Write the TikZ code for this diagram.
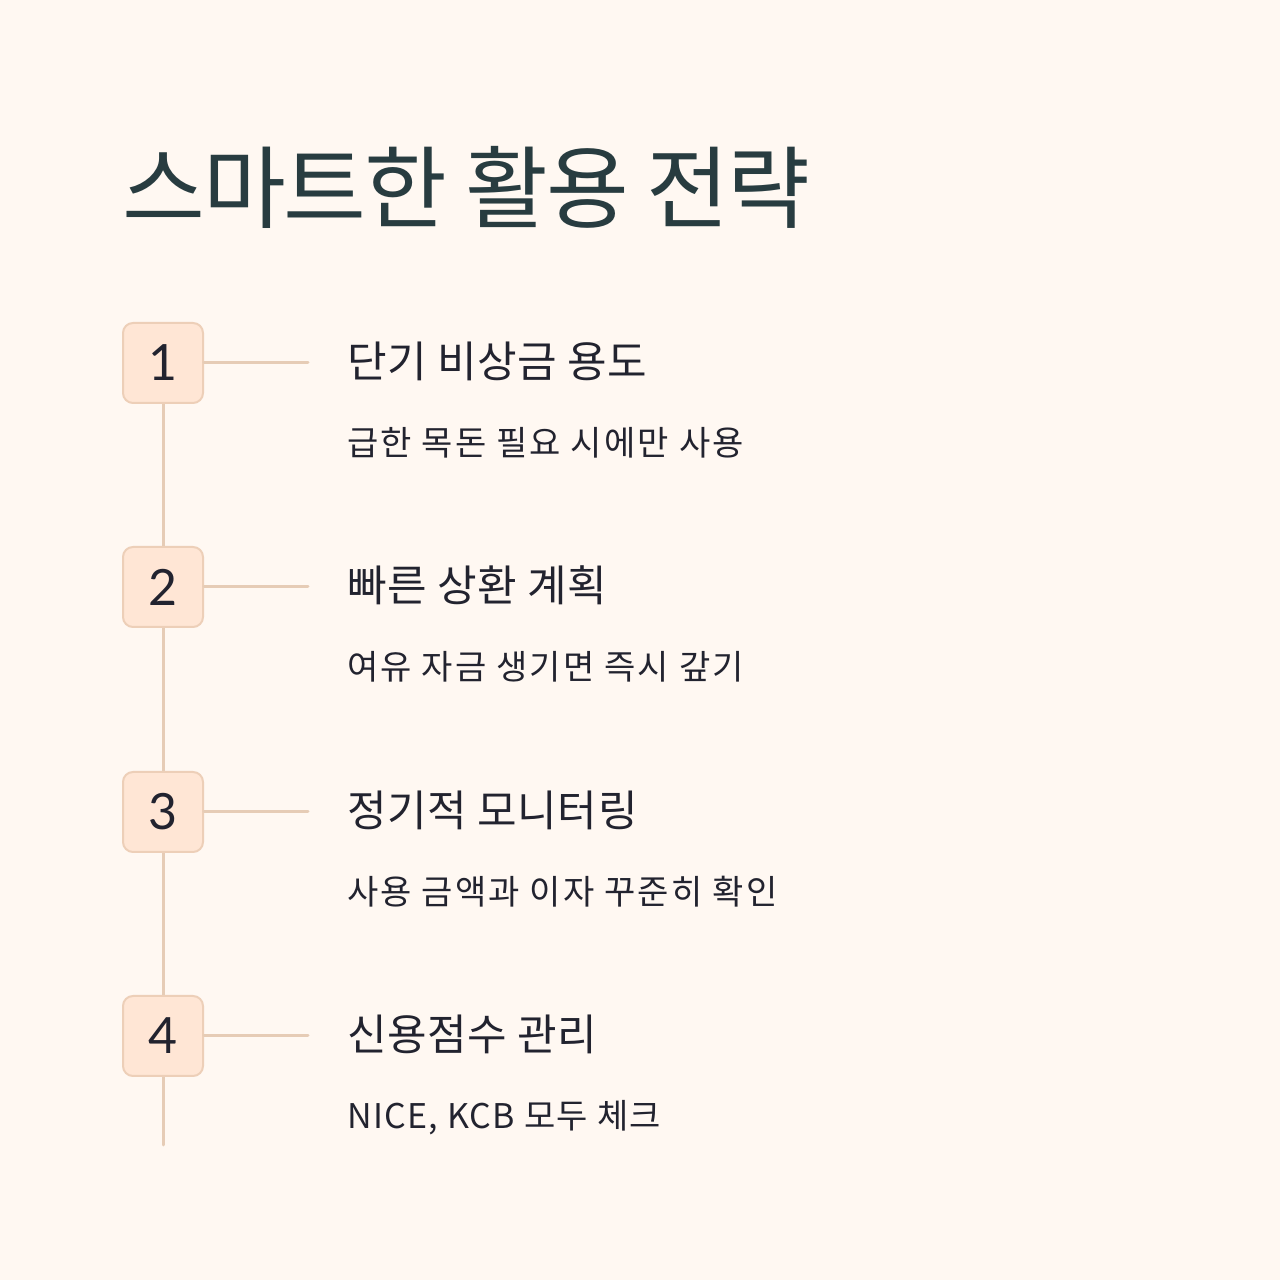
\documentclass[tikz,border=0pt]{standalone}
\usepackage{fontspec}
\setmainfont{Noto Sans CJK KR}
\newfontfamily\numfont{Lato}
\newfontfamily\titlefont[LetterSpace=-2.3]{Noto Sans CJK KR}
\newfontfamily\headfont[LetterSpace=1.5]{Noto Sans CJK KR}
\newfontfamily\subfont[LetterSpace=6.5]{Noto Sans CJK KR}
\newfontfamily\subfontlat[LetterSpace=4]{Noto Sans CJK KR}
\definecolor{bg}{HTML}{FFF8F2}
\definecolor{boxfill}{HTML}{FFE6D5}
\definecolor{boxline}{HTML}{EDCFB8}
\definecolor{conn}{HTML}{E6CCB6}
\definecolor{titlec}{HTML}{283C40}
\definecolor{textc}{HTML}{22232F}
\tikzset{
  numbox/.style={draw=boxline, line width=2pt, fill=boxfill, rounded corners=10pt, minimum width=80pt, minimum height=80pt, inner sep=0pt, font=\numfont\fontsize{50}{50}\selectfont, text=textc},
  heading/.style={anchor=base west, inner sep=0pt, font=\headfont\fontsize{43}{43}\selectfont, text=textc},
  subtext/.style={anchor=base west, inner sep=0pt, font=\subfont\fontsize{34}{34}\selectfont, text=textc},
  connline/.style={draw=conn, line width=3pt, line cap=round}
}
\begin{document}
\begin{tikzpicture}[x=1pt,y=1pt]
\fill[bg] (0,0) rectangle (1280,1280);
\useasboundingbox (0,0) rectangle (1280,1280);
\node[anchor=base west, inner sep=0pt, font=\titlefont\fontsize{90}{90}\selectfont, text=titlec] (title) at (122,1280-222) {스마트한 활용 전략};
\coordinate (lineend) at (163,1280-1145);
\foreach \i/\y in {1/363,2/587,3/812,4/1036}{
  \coordinate (h\i) at (308,1280-\y);
}
\draw[connline] (163,1280-363) -- (lineend);
\foreach \i/\y in {1/363,2/587,3/812,4/1036}{
  \node[numbox] (b\i) at (163,1280-\y) {\i};
  \draw[connline] (b\i.east) -- (h\i);
}
\node[heading] (t1) at (347,1280-378) {단기 비상금 용도};
\node[subtext] (s1) at (347,1280-456) {급한 목돈 필요 시에만 사용};
\node[heading] (t2) at (347,1280-602) {빠른 상환 계획};
\node[subtext] (s2) at (347,1280-680) {여유 자금 생기면 즉시 갚기};
\node[heading] (t3) at (347,1280-827) {정기적 모니터링};
\node[subtext] (s3) at (347,1280-905) {사용 금액과 이자 꾸준히 확인};
\node[heading] (t4) at (347,1280-1051) {신용점수 관리};
\node[subtext, font=\subfontlat\fontsize{34}{34}\selectfont] (s4) at (347,1280-1129) {NICE, KCB 모두 체크};
\end{tikzpicture}
\end{document}
